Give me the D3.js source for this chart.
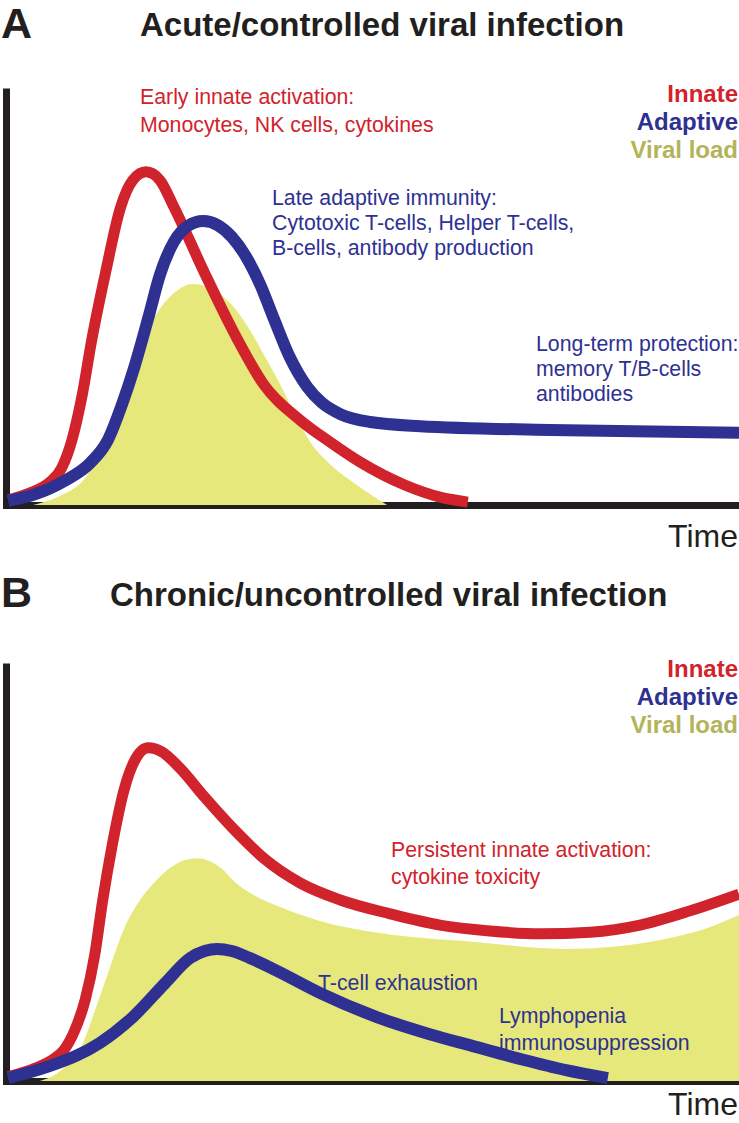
<!DOCTYPE html>
<html>
<head>
<meta charset="utf-8">
<script src="https://cdn.jsdelivr.net/npm/d3@7"></script>
<style>
  html, body { margin: 0; padding: 0; background: #fff; }
  svg { display: block; font-family: "Liberation Sans", Arial, Helvetica, sans-serif; }
</style>
</head>
<body>
<div id="chart"></div>
<script>
// values as [time, level], both on a 0-100 scale
const acuteInnate = [
  [0.3, 1.2], [3.3, 2.9], [6.0, 5.5], [7.6, 8.9], [9.0, 15.6], [10.4, 26.4], [11.7, 39.6],
  [13.6, 55.9], [15.6, 71.2], [17.3, 77.9], [19.1, 79.9], [21.0, 77.9], [22.9, 71.5],
  [27.1, 55.6], [31.4, 40.3], [35.2, 28.8], [40.1, 20.4], [44.2, 15.1], [48.3, 10.3],
  [54.4, 4.8], [59.2, 1.9], [63.0, 0.7]
];
const acuteAdaptive = [
  [0.3, 1.0], [4.0, 2.6], [8.0, 5.8], [11.5, 10.1], [13.9, 15.6], [15.8, 24.0], [17.6, 33.6],
  [19.4, 44.8], [21.0, 55.2], [22.9, 63.1], [24.8, 66.9], [26.9, 68.1], [28.9, 67.1],
  [30.8, 64.3], [32.7, 59.7], [34.7, 52.8], [36.6, 44.4], [38.7, 35.5], [41.1, 28.3],
  [43.1, 24.5], [45.6, 21.8], [49.7, 19.9], [56.5, 18.9], [74.2, 18.0], [100, 17.3]
];
const acuteViral = [
  [3.7, 0], [7.4, 2.2], [10.8, 6.5], [13.2, 13.7], [14.9, 21.6], [16.5, 30.5], [18.6, 39.1],
  [20.7, 46.3], [23.1, 51.1], [25.5, 53.0], [28.1, 51.8], [30.6, 48.4], [33.0, 42.7],
  [35.3, 35.7], [37.8, 27.6], [39.8, 20.4], [41.7, 14.6], [44.2, 9.8], [46.9, 6.0],
  [49.7, 2.6], [52.0, 0]
];
const chronicInnate = [
  [0.3, 1.0], [4.0, 3.1], [6.3, 5.0], [7.9, 7.4], [9.4, 12.2], [10.8, 19.4], [12.1, 30.1],
  [13.2, 43.3], [14.5, 56.5], [16.1, 69.6], [17.6, 76.8], [19.4, 79.7], [21.3, 78.7],
  [23.7, 74.9], [27.1, 67.9], [31.2, 60.0], [35.3, 53.1], [40.1, 47.4], [45.6, 43.3],
  [52.4, 40.0], [59.2, 37.3], [66.0, 35.9], [72.9, 35.2], [79.7, 35.6], [86.5, 37.3],
  [93.3, 40.7], [100, 44.7]
];
const chronicAdaptive = [
  [0.3, 0.7], [6.0, 3.6], [12.8, 9.1], [17.3, 15.3], [21.7, 23.4], [25.1, 29.4], [27.1, 31.1],
  [28.8, 31.6], [30.8, 31.1], [33.3, 29.4], [36.7, 26.6], [42.8, 21.1], [50.6, 15.3],
  [57.8, 11.2], [63.6, 8.4], [70.1, 5.3], [76.4, 2.6], [82.1, 0.7]
];
const chronicViral = [
  [4.6, 0], [7.4, 2.4], [10.5, 9.1], [12.4, 18.2], [14.2, 27.3], [16.2, 36.8], [18.3, 43.3],
  [20.3, 47.6], [22.4, 51.0], [24.4, 52.9], [26.1, 53.3], [27.8, 52.6], [29.5, 50.7],
  [31.2, 47.6], [33.6, 44.7], [37.4, 41.6], [42.8, 38.3], [51.0, 35.4], [63.6, 33.3],
  [76.4, 31.6], [83.8, 32.3], [90.6, 34.2], [95.4, 36.4], [100, 39.7]
];

const letters = ["A", "B"];
const titles = ["Acute/controlled viral infection", "Chronic/uncontrolled viral infection"];
const legendLabels = ["Innate", "Adaptive", "Viral load"];
const axisLabel = "Time";
const acuteNotes = [
  ["Early innate activation:", "Monocytes, NK cells, cytokines"],
  ["Late adaptive immunity:", "Cytotoxic T-cells, Helper T-cells,", "B-cells, antibody production"],
  ["Long-term protection:", "memory T/B-cells", "antibodies"]
];
const chronicNotes = [
  ["Persistent innate activation:", "cytokine toxicity"],
  ["T-cell exhaustion"],
  ["Lymphopenia", "immunosuppression"]
];

const colors = {
  innate: "#d1232b",
  adaptive: "#2e3192",
  viral: "#e6e87b",
  viralText: "#b3b35a",
  ink: "#231f20"
};

class InfectionPanel {
  /**
   * one panel: two axes, viral load area, innate + adaptive curves, labels
   */
  constructor(_config, _data) {
    this.config = {
      parentElement: _config.parentElement,
      plotLeft: _config.plotLeft || 6,
      plotRight: _config.plotRight || 739,
      plotTop: _config.plotTop,
      plotBottom: _config.plotBottom,
      letter: _config.letter,
      letterY: _config.letterY,
      title: _config.title,
      titleX: _config.titleX,
      titleY: _config.titleY,
      legendY: _config.legendY,
      notes: _config.notes || [],
      timeY: _config.timeY
    };
    this.data = _data;
    this.initVis();
  }

  initVis() {
    let vis = this;
    const c = vis.config;

    vis.g = d3.select(c.parentElement).append('g');

    vis.x = d3.scaleLinear().domain([0, 100]).range([c.plotLeft, c.plotRight]);
    vis.y = d3.scaleLinear().domain([0, 100]).range([c.plotBottom, c.plotTop]);
    // axis line stops short so the square cap ends at the plot top
    vis.yAxisScale = vis.y.copy().range([c.plotBottom, c.plotTop + 3.5]);

    vis.g.append('g')
        .attr('class', 'axis x-axis')
        .attr('transform', `translate(0,${c.plotBottom})`)
        .call(d3.axisBottom(vis.x).tickValues([]).tickSizeOuter(0));

    vis.g.append('g')
        .attr('class', 'axis y-axis')
        .attr('transform', `translate(${c.plotLeft},0)`)
        .call(d3.axisLeft(vis.yAxisScale).tickValues([]).tickSizeOuter(0));

    vis.g.selectAll('.axis path.domain')
        .attr('stroke', colors.ink)
        .attr('stroke-width', 7)
        .attr('stroke-linecap', 'square');

    vis.line = d3.line()
        .x(d => vis.x(d[0]))
        .y(d => vis.y(d[1]))
        .curve(d3.curveMonotoneX);

    vis.area = d3.area()
        .x(d => vis.x(d[0]))
        .y0(vis.y(0))
        .y1(d => vis.y(d[1]))
        .curve(d3.curveMonotoneX);

    vis.renderVis();
  }

  renderVis() {
    let vis = this;
    const c = vis.config;

    vis.g.append('path')
        .datum(vis.data.viral)
        .attr('d', vis.area)
        .attr('fill', colors.viral);

    vis.g.append('path')
        .datum(vis.data.innate)
        .attr('d', vis.line)
        .attr('fill', 'none')
        .attr('stroke', colors.innate)
        .attr('stroke-width', 11);

    vis.g.append('path')
        .datum(vis.data.adaptive)
        .attr('d', vis.line)
        .attr('fill', 'none')
        .attr('stroke', colors.adaptive)
        .attr('stroke-width', 12);

    // panel letter and title
    vis.g.append('text')
        .attr('x', 1).attr('y', c.letterY)
        .attr('font-size', 43).attr('font-weight', 'bold')
        .attr('fill', colors.ink)
        .text(c.letter);

    vis.g.append('text')
        .attr('x', c.titleX).attr('y', c.titleY)
        .attr('font-size', 33).attr('font-weight', 'bold')
        .attr('fill', colors.ink)
        .text(c.title);

    // legend, right aligned
    const legendColors = [colors.innate, colors.adaptive, colors.viralText];
    vis.g.selectAll('.legend')
        .data(legendLabels)
        .enter().append('text')
        .attr('class', 'legend')
        .attr('x', 738)
        .attr('y', (d, i) => c.legendY + i * 28)
        .attr('text-anchor', 'end')
        .attr('font-size', 24).attr('font-weight', 'bold')
        .attr('fill', (d, i) => legendColors[i])
        .text(d => d);

    // annotations
    c.notes.forEach(n => {
      vis.g.append('text')
          .attr('font-size', 21.3)
          .attr('fill', n.color)
          .selectAll('tspan')
          .data(n.lines)
          .enter().append('tspan')
          .attr('x', n.x)
          .attr('y', (d, i) => n.y + i * n.dy)
          .text(d => d);
    });

    vis.g.append('text')
        .attr('x', 738).attr('y', c.timeY)
        .attr('text-anchor', 'end')
        .attr('font-size', 32)
        .attr('fill', colors.ink)
        .text(axisLabel);
  }
}

const svg = d3.select('#chart').append('svg')
    .attr('width', 739)
    .attr('height', 1123);

new InfectionPanel({
  parentElement: svg.node(),
  plotTop: 88, plotBottom: 505,
  letter: letters[0], letterY: 38,
  title: titles[0], titleX: 140, titleY: 36,
  legendY: 102, timeY: 547,
  notes: [
    { lines: acuteNotes[0], x: 140, y: 104, dy: 28, color: colors.innate },
    { lines: acuteNotes[1], x: 272, y: 205, dy: 25, color: colors.adaptive },
    { lines: acuteNotes[2], x: 536, y: 351, dy: 25, color: colors.adaptive }
  ]
}, { innate: acuteInnate, adaptive: acuteAdaptive, viral: acuteViral });

new InfectionPanel({
  parentElement: svg.node(),
  plotTop: 663, plotBottom: 1081,
  letter: letters[1], letterY: 607,
  title: titles[1], titleX: 110, titleY: 606,
  legendY: 677, timeY: 1115,
  notes: [
    { lines: chronicNotes[0], x: 391, y: 857, dy: 27, color: colors.innate },
    { lines: chronicNotes[1], x: 318, y: 990, dy: 27, color: colors.adaptive },
    { lines: chronicNotes[2], x: 499, y: 1023, dy: 27, color: colors.adaptive }
  ]
}, { innate: chronicInnate, adaptive: chronicAdaptive, viral: chronicViral });
</script>
</body>
</html>
